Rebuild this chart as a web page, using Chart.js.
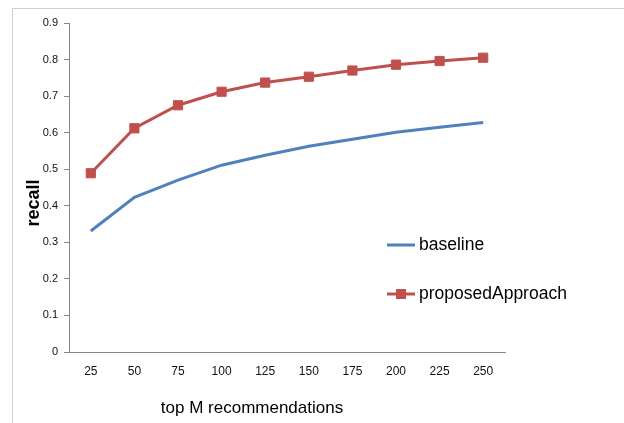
<!DOCTYPE html>
<html>
<head>
<meta charset="utf-8">
<script src="https://cdn.jsdelivr.net/npm/chart.js@4.4.0/dist/chart.umd.min.js"></script>
<style>
  html, body { margin: 0; padding: 0; background: #fff; }
  #wrap { width: 624px; height: 423px; position: relative; }
</style>
</head>
<body>
<div id="wrap"><canvas id="recallChart"></canvas></div>
<script>
// --- Data ---
const topM = ['25', '50', '75', '100', '125', '150', '175', '200', '225', '250'];
const baseline = [0.331, 0.423, 0.470, 0.511, 0.538, 0.563, 0.582, 0.601, 0.615, 0.628];
const proposedApproach = [0.489, 0.612, 0.675, 0.712, 0.737, 0.753, 0.770, 0.786, 0.796, 0.805];

const BLUE = '#4f81bd';
const RED = '#c0504d';
const AXIS = '#868686';
const FONT = '"Liberation Sans", Arial, sans-serif';

// frame, axis titles and the little legend inside the plot
const decorPlugin = {
    id: 'decor',
    beforeDraw(chart) {
        const ctx = chart.ctx;
        ctx.save();
        ctx.strokeStyle = '#d0d0d0';
        ctx.lineWidth = 1;
        ctx.strokeRect(12.5, 8.5, 700, 600);
        ctx.restore();
    },
    afterDraw(chart) {
        const ctx = chart.ctx;
        ctx.save();
        ctx.fillStyle = '#000';
        // y title
        ctx.font = 'bold 18px ' + FONT;
        ctx.translate(34, 203);
        ctx.rotate(-Math.PI / 2);
        ctx.textAlign = 'center';
        ctx.textBaseline = 'middle';
        ctx.fillText('recall', 0, 0);
        ctx.restore();

        ctx.save();
        ctx.font = '17px ' + FONT;
        ctx.fillStyle = '#000';
        ctx.textAlign = 'center';
        ctx.textBaseline = 'middle';
        ctx.fillText('top M recommendations', 252, 408);

        // legend, styles taken from the datasets
        const items = chart.data.datasets;
        const rows = [245, 294];
        ctx.font = '17.5px ' + FONT;
        ctx.textAlign = 'left';
        items.forEach((ds, i) => {
            const y = rows[i];
            ctx.strokeStyle = ds.borderColor;
            ctx.lineWidth = ds.borderWidth;
            ctx.beginPath();
            ctx.moveTo(387, y);
            ctx.lineTo(415, y);
            ctx.stroke();
            if (ds.pointRadius > 0) {
                ctx.fillStyle = ds.backgroundColor;
                ctx.fillRect(396, y - 5, 10, 10);
            }
            ctx.fillStyle = '#000';
            ctx.fillText(ds.label, 419, y);
        });
        ctx.restore();
    }
};

const ctx = document.getElementById('recallChart').getContext('2d');
new Chart(ctx, {
    type: 'line',
    data: {
        labels: topM,
        datasets: [
            {
                label: 'baseline',
                data: baseline,
                borderColor: BLUE,
                backgroundColor: BLUE,
                borderWidth: 3,
                pointRadius: 0,
                tension: 0
            },
            {
                label: 'proposedApproach',
                data: proposedApproach,
                borderColor: RED,
                backgroundColor: RED,
                borderWidth: 3,
                pointStyle: 'rect',
                pointRadius: 6.5,
                pointBorderWidth: 1,
                tension: 0
            }
        ]
    },
    options: {
        responsive: true,
        maintainAspectRatio: false,
        animation: false,
        layout: { padding: { left: 0, right: 119, top: 23, bottom: 0 } },
        plugins: {
            legend: { display: false },
            tooltip: { enabled: false }
        },
        scales: {
            x: {
                offset: true,
                grid: { display: false },
                border: { display: true, color: AXIS, width: 1 },
                ticks: { color: '#111', font: { family: FONT, size: 12 }, padding: 4, maxRotation: 0 },
                afterFit(scale) { scale.height = 71; }
            },
            y: {
                min: 0,
                max: 0.9,
                grid: { drawOnChartArea: false, color: AXIS, tickLength: 5 },
                border: { display: true, color: AXIS, width: 1 },
                ticks: {
                    stepSize: 0.1,
                    color: '#111',
                    font: { family: FONT, size: 11 },
                    padding: 6,
                    callback: v => String(Math.round(v * 10) / 10)
                },
                afterFit(scale) { scale.width = 69; }
            }
        }
    },
    plugins: [decorPlugin]
});
</script>
</body>
</html>
